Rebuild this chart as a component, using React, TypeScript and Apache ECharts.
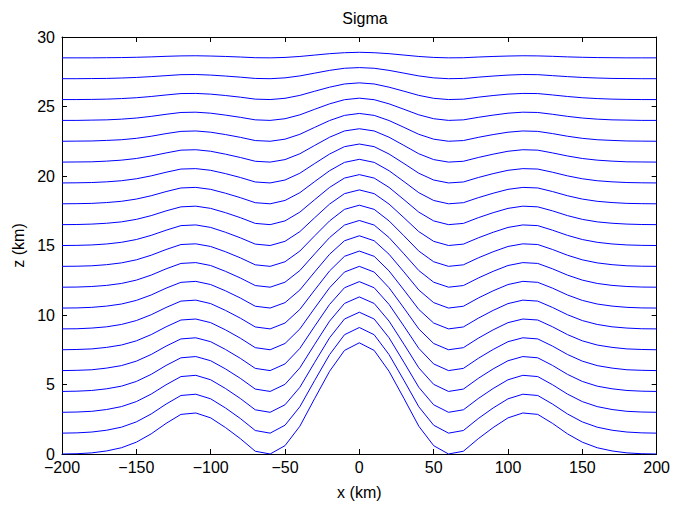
import React, { useEffect, useRef } from "react";
import * as echarts from "echarts";

// x positions (km)
const xKm: number[] = [
  -200, -190, -180, -170, -160, -150, -140, -130, -120, -110, -100, -90, -80, -70, -60, -50, -40, -30, -20, -10, 0,
  10, 20, 30, 40, 50, 60, 70, 80, 90, 100, 110, 120, 130, 140, 150, 160, 170, 180, 190, 200,
];

// Heights (km) of each sigma level, from the terrain line up to the top level
const level00 = [0, 0.02, 0.08, 0.22, 0.45, 0.85, 1.45, 2.2, 2.85, 2.95, 2.6, 1.9, 1.1, 0.2, 0, 0.6, 2, 4, 5.95, 7.45, 8, 7.45, 5.95, 4, 2, 0.6, 0, 0.2, 1.1, 1.9, 2.6, 2.95, 2.85, 2.2, 1.45, 0.85, 0.45, 0.22, 0.08, 0.02, 0];
const level01 = [1.5, 1.52, 1.58, 1.71, 1.93, 2.31, 2.88, 3.59, 4.21, 4.3, 3.97, 3.31, 2.55, 1.69, 1.5, 2.07, 3.4, 5.3, 7.15, 8.58, 9.1, 8.58, 7.15, 5.3, 3.4, 2.07, 1.5, 1.69, 2.55, 3.31, 3.97, 4.3, 4.21, 3.59, 2.88, 2.31, 1.93, 1.71, 1.58, 1.52, 1.5];
const level02 = [3, 3.02, 3.07, 3.2, 3.41, 3.77, 4.31, 4.98, 5.57, 5.66, 5.34, 4.71, 3.99, 3.18, 3, 3.54, 4.8, 6.6, 8.36, 9.71, 10.2, 9.71, 8.36, 6.6, 4.8, 3.54, 3, 3.18, 3.99, 4.71, 5.34, 5.66, 5.57, 4.98, 4.31, 3.77, 3.41, 3.2, 3.07, 3.02, 3];
const level03 = [4.5, 4.52, 4.57, 4.69, 4.88, 5.22, 5.73, 6.37, 6.92, 7.01, 6.71, 6.12, 5.44, 4.67, 4.5, 5.01, 6.2, 7.9, 9.56, 10.83, 11.3, 10.83, 9.56, 7.9, 6.2, 5.01, 4.5, 4.67, 5.44, 6.12, 6.71, 7.01, 6.92, 6.37, 5.73, 5.22, 4.88, 4.69, 4.57, 4.52, 4.5];
const level04 = [6, 6.02, 6.06, 6.18, 6.36, 6.68, 7.16, 7.76, 8.28, 8.36, 8.08, 7.52, 6.88, 6.16, 6, 6.48, 7.6, 9.2, 10.76, 11.96, 12.4, 11.96, 10.76, 9.2, 7.6, 6.48, 6, 6.16, 6.88, 7.52, 8.08, 8.36, 8.28, 7.76, 7.16, 6.68, 6.36, 6.18, 6.06, 6.02, 6];
const level05 = [7.5, 7.52, 7.56, 7.67, 7.84, 8.14, 8.59, 9.15, 9.64, 9.71, 9.45, 8.93, 8.33, 7.65, 7.5, 7.95, 9, 10.5, 11.96, 13.09, 13.5, 13.09, 11.96, 10.5, 9, 7.95, 7.5, 7.65, 8.33, 8.93, 9.45, 9.71, 9.64, 9.15, 8.59, 8.14, 7.84, 7.67, 7.56, 7.52, 7.5];
const level06 = [9, 9.01, 9.06, 9.15, 9.32, 9.6, 10.02, 10.54, 11.0, 11.07, 10.82, 10.33, 9.77, 9.14, 9, 9.42, 10.4, 11.8, 13.17, 14.22, 14.6, 14.22, 13.17, 11.8, 10.4, 9.42, 9, 9.14, 9.77, 10.33, 10.82, 11.07, 11.0, 10.54, 10.02, 9.6, 9.32, 9.15, 9.06, 9.01, 9];
const level07 = [10.5, 10.51, 10.55, 10.64, 10.79, 11.05, 11.44, 11.93, 12.35, 12.42, 12.19, 11.74, 11.22, 10.63, 10.5, 10.89, 11.8, 13.1, 14.37, 15.34, 15.7, 15.34, 14.37, 13.1, 11.8, 10.89, 10.5, 10.63, 11.22, 11.74, 12.19, 12.42, 12.35, 11.93, 11.44, 11.05, 10.79, 10.64, 10.55, 10.51, 10.5];
const level08 = [12, 12.01, 12.05, 12.13, 12.27, 12.51, 12.87, 13.32, 13.71, 13.77, 13.56, 13.14, 12.66, 12.12, 12, 12.36, 13.2, 14.4, 15.57, 16.47, 16.8, 16.47, 15.57, 14.4, 13.2, 12.36, 12, 12.12, 12.66, 13.14, 13.56, 13.77, 13.71, 13.32, 12.87, 12.51, 12.27, 12.13, 12.05, 12.01, 12];
const level09 = [13.5, 13.51, 13.54, 13.62, 13.75, 13.97, 14.3, 14.71, 15.07, 15.12, 14.93, 14.55, 14.11, 13.61, 13.5, 13.83, 14.6, 15.7, 16.77, 17.6, 17.9, 17.6, 16.77, 15.7, 14.6, 13.83, 13.5, 13.61, 14.11, 14.55, 14.93, 15.12, 15.07, 14.71, 14.3, 13.97, 13.75, 13.62, 13.54, 13.51, 13.5];
const level10 = [15, 15.01, 15.04, 15.11, 15.23, 15.43, 15.73, 16.1, 16.43, 16.48, 16.3, 15.95, 15.55, 15.1, 15, 15.3, 16, 17, 17.98, 18.73, 19, 18.73, 17.98, 17, 16, 15.3, 15, 15.1, 15.55, 15.95, 16.3, 16.48, 16.43, 16.1, 15.73, 15.43, 15.23, 15.11, 15.04, 15.01, 15];
const level11 = [16.5, 16.51, 16.54, 16.6, 16.7, 16.88, 17.15, 17.49, 17.78, 17.83, 17.67, 17.36, 17.0, 16.59, 16.5, 16.77, 17.4, 18.3, 19.18, 19.85, 20.1, 19.85, 19.18, 18.3, 17.4, 16.77, 16.5, 16.59, 17.0, 17.36, 17.67, 17.83, 17.78, 17.49, 17.15, 16.88, 16.7, 16.6, 16.54, 16.51, 16.5];
const level12 = [18, 18.01, 18.03, 18.09, 18.18, 18.34, 18.58, 18.88, 19.14, 19.18, 19.04, 18.76, 18.44, 18.08, 18, 18.24, 18.8, 19.6, 20.38, 20.98, 21.2, 20.98, 20.38, 19.6, 18.8, 18.24, 18, 18.08, 18.44, 18.76, 19.04, 19.18, 19.14, 18.88, 18.58, 18.34, 18.18, 18.09, 18.03, 18.01, 18];
const level13 = [19.5, 19.51, 19.53, 19.58, 19.66, 19.8, 20.01, 20.27, 20.5, 20.53, 20.41, 20.17, 19.89, 19.57, 19.5, 19.71, 20.2, 20.9, 21.58, 22.11, 22.3, 22.11, 21.58, 20.9, 20.2, 19.71, 19.5, 19.57, 19.89, 20.17, 20.41, 20.53, 20.5, 20.27, 20.01, 19.8, 19.66, 19.58, 19.53, 19.51, 19.5];
const level14 = [21, 21.01, 21.02, 21.07, 21.14, 21.26, 21.44, 21.66, 21.86, 21.89, 21.78, 21.57, 21.33, 21.06, 21, 21.18, 21.6, 22.2, 22.79, 23.24, 23.4, 23.24, 22.79, 22.2, 21.6, 21.18, 21, 21.06, 21.33, 21.57, 21.78, 21.89, 21.86, 21.66, 21.44, 21.26, 21.14, 21.07, 21.02, 21.01, 21];
const level15 = [22.5, 22.51, 22.52, 22.56, 22.61, 22.71, 22.86, 23.05, 23.21, 23.24, 23.15, 22.98, 22.78, 22.55, 22.5, 22.65, 23, 23.5, 23.99, 24.36, 24.5, 24.36, 23.99, 23.5, 23, 22.65, 22.5, 22.55, 22.78, 22.98, 23.15, 23.24, 23.21, 23.05, 22.86, 22.71, 22.61, 22.56, 22.52, 22.51, 22.5];
const level16 = [24, 24.0, 24.02, 24.04, 24.09, 24.17, 24.29, 24.44, 24.57, 24.59, 24.52, 24.38, 24.22, 24.04, 24, 24.12, 24.4, 24.8, 25.19, 25.49, 25.6, 25.49, 25.19, 24.8, 24.4, 24.12, 24, 24.04, 24.22, 24.38, 24.52, 24.59, 24.57, 24.44, 24.29, 24.17, 24.09, 24.04, 24.02, 24.0, 24];
const level17 = [25.5, 25.5, 25.51, 25.53, 25.57, 25.63, 25.72, 25.83, 25.93, 25.94, 25.89, 25.79, 25.67, 25.53, 25.5, 25.59, 25.8, 26.1, 26.39, 26.62, 26.7, 26.62, 26.39, 26.1, 25.8, 25.59, 25.5, 25.53, 25.67, 25.79, 25.89, 25.94, 25.93, 25.83, 25.72, 25.63, 25.57, 25.53, 25.51, 25.5, 25.5];
const level18 = [27, 27.0, 27.01, 27.02, 27.05, 27.09, 27.15, 27.22, 27.29, 27.3, 27.26, 27.19, 27.11, 27.02, 27, 27.06, 27.2, 27.4, 27.6, 27.75, 27.8, 27.75, 27.6, 27.4, 27.2, 27.06, 27, 27.02, 27.11, 27.19, 27.26, 27.3, 27.29, 27.22, 27.15, 27.09, 27.05, 27.02, 27.01, 27.0, 27];
const level19 = [28.5, 28.5, 28.5, 28.51, 28.52, 28.54, 28.57, 28.61, 28.64, 28.65, 28.63, 28.6, 28.56, 28.51, 28.5, 28.53, 28.6, 28.7, 28.8, 28.87, 28.9, 28.87, 28.8, 28.7, 28.6, 28.53, 28.5, 28.51, 28.56, 28.6, 28.63, 28.65, 28.64, 28.61, 28.57, 28.54, 28.52, 28.51, 28.5, 28.5, 28.5];

const levels: number[][] = [
  level00, level01, level02, level03, level04, level05, level06, level07, level08, level09,
  level10, level11, level12, level13, level14, level15, level16, level17, level18, level19,
];

const xTicks = { min: -200, max: 200, interval: 50 };
const zTicks = { min: 0, max: 30, interval: 5 };

const FONT = "'Liberation Sans', Arial, Helvetica, sans-serif";

const fmt = (v: number) => (v < 0 ? "\u2212" + Math.abs(v) : String(v));

export default function App() {
  const ref = useRef<HTMLDivElement>(null);
  useEffect(() => {
    if (!ref.current) return;
    const chart = echarts.init(ref.current, undefined, { renderer: "svg" });
    const axisLine = { show: true, onZero: false, lineStyle: { color: "#000", width: 1 } };
    const tick = { show: true, inside: true, length: 5, lineStyle: { color: "#000" } };
    const option: any = {
      animation: false,
      backgroundColor: "#fff",
      title: {
        text: "Sigma",
        left: 360,
        textAlign: "center",
        top: 5,
        textStyle: { fontFamily: FONT, fontSize: 16, fontWeight: "normal", color: "#000" },
      },
      grid: { left: 62, right: 14, top: 37, bottom: 50, containLabel: false },
      xAxis: [
        {
          type: "value",
          min: xTicks.min,
          max: xTicks.max,
          interval: xTicks.interval,
          position: "bottom",
          name: "x (km)",
          nameLocation: "middle",
          nameGap: 30,
          nameTextStyle: { fontFamily: FONT, fontSize: 16, color: "#000" },
          axisLine,
          axisTick: tick,
          axisLabel: { fontFamily: FONT, fontSize: 16, color: "#000", margin: 5, formatter: fmt },
          splitLine: { show: false },
        },
        {
          type: "value",
          min: xTicks.min,
          max: xTicks.max,
          interval: xTicks.interval,
          position: "top",
          axisLine,
          axisTick: tick,
          axisLabel: { show: false },
          splitLine: { show: false },
        },
      ],
      yAxis: [
        {
          type: "value",
          min: zTicks.min,
          max: zTicks.max,
          interval: zTicks.interval,
          position: "left",
          name: "z (km)",
          nameLocation: "middle",
          nameGap: 36,
          nameTextStyle: { fontFamily: FONT, fontSize: 16, color: "#000" },
          axisLine,
          axisTick: tick,
          axisLabel: { fontFamily: FONT, fontSize: 16, color: "#000", margin: 7, formatter: fmt },
          splitLine: { show: false },
        },
        {
          type: "value",
          min: zTicks.min,
          max: zTicks.max,
          interval: zTicks.interval,
          position: "right",
          axisLine,
          axisTick: tick,
          axisLabel: { show: false },
          splitLine: { show: false },
        },
      ],
      series: levels.map((row, k) => ({
        name: "level " + k,
        type: "line",
        xAxisIndex: 0,
        yAxisIndex: 0,
        data: xKm.map((x, i) => [x, row[i]]),
        showSymbol: false,
        symbol: "none",
        silent: true,
        lineStyle: { color: "#0000ff", width: 1 },
        z: 1,
      })),
    };
    chart.setOption(option);
    return () => chart.dispose();
  }, []);
  return <div ref={ref} style={{ width: 673, height: 505, position: "absolute", left: 0, top: 0 }} />;
}
